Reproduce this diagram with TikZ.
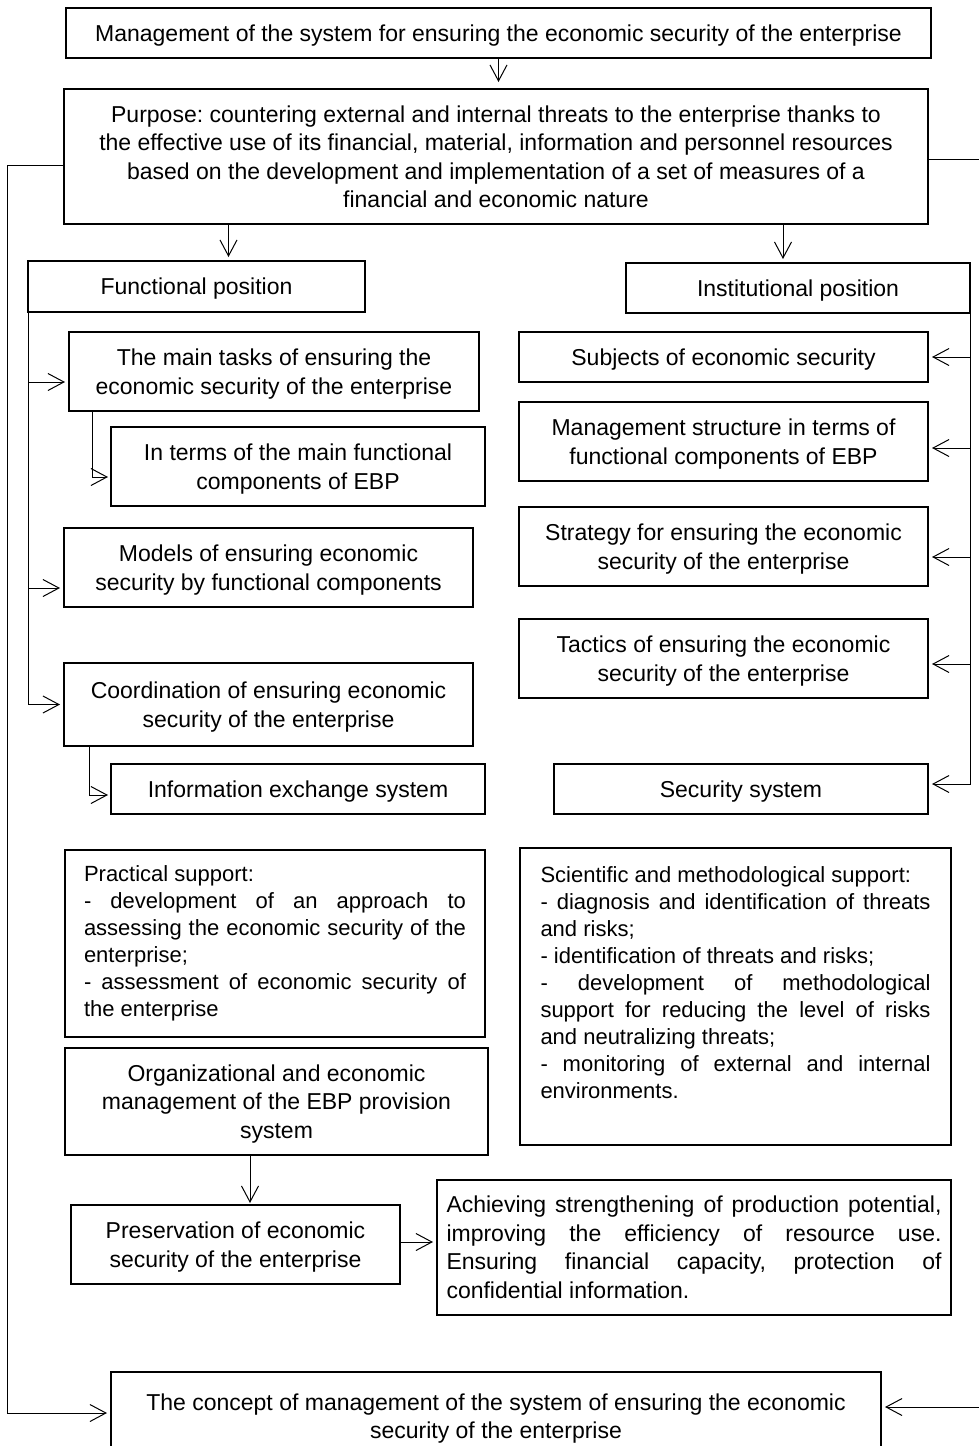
\documentclass[tikz,border=0pt]{standalone}
\usepackage{fontspec}
\setmainfont{Liberation Sans}
\usetikzlibrary{arrows.meta,positioning,calc}
\setlength{\parindent}{0pt}
\tolerance=10000
\hyphenpenalty=10000
\frenchspacing

\begin{document}
\begin{tikzpicture}[
    x=1pt, y=-1pt,
    font=\fontsize{23}{28.5}\selectfont,
    >={Straight Barb[length=16pt,width=17pt]},
    block/.style={
        rectangle, draw=black, line width=1.5pt,
        align=center, inner sep=0pt, outer sep=0pt,
        text depth=-2pt
    },
    note/.style={
        rectangle, draw=black, line width=1.5pt,
        align=justify, inner ysep=0pt, outer sep=0pt
    },
    smallnote/.style={note, font=\fontsize{22}{27}\selectfont},
    arrow/.style={->, line width=1pt, shorten >=4pt},
]
  \useasboundingbox (0,0) rectangle (978,1446);

  %––– Top level ––––––––––––––––––––––––––––––––––––––––––––
  \node (top) [block, minimum width=865pt, minimum height=50pt] at (498.5,33)
      {Management of the system for ensuring the economic security of the enterprise};

  \node (purpose) [block, minimum width=864pt, minimum height=135pt,
      below=31pt of top, xshift=-2.5pt] {
      Purpose: countering external and internal threats to the enterprise thanks to\\
      the effective use of its financial, material, information and personnel resources\\
      based on the development and implementation of a set of measures of a\\
      financial and economic nature};

  %––– Positions ––––––––––––––––––––––––––––––––––––––––––––
  \node (func) [block, minimum width=337pt, minimum height=51pt,
      below right=37pt and -36pt of purpose.south west] {Functional position};
  \node (inst) [block, minimum width=344pt, minimum height=50pt,
      below left=39pt and -42pt of purpose.south east] {Institutional position};

  %––– Functional column ––––––––––––––––––––––––––––––––––––
  \node (tasks) [block, minimum width=410pt, minimum height=79pt,
      below right=20pt and 41pt of func.south west] {
      The main tasks of ensuring the\\economic security of the enterprise};
  \node (terms) [block, minimum width=374pt, minimum height=79pt,
      below right=16pt and 42pt of tasks.south west] {
      In terms of the main functional\\components of EBP};
  \node (models) [block, minimum width=409pt, minimum height=79pt,
      below right=22pt and -47pt of terms.south west] {
      Models of ensuring economic\\security by functional components};
  \node (coord) [block, minimum width=409pt, minimum height=83pt,
      below right=56pt and 0pt of models.south west] {
      Coordination of ensuring economic\\security of the enterprise};
  \node (info) [block, minimum width=374pt, minimum height=50pt,
      below right=18pt and 47pt of coord.south west] {Information exchange system};

  %––– Institutional column –––––––––––––––––––––––––––––––––
  \node (subjects) [block, minimum width=409pt, minimum height=50pt,
      below left=19pt and 42pt of inst.south east] {Subjects of economic security};
  \node (mgmt) [block, minimum width=409pt, minimum height=79pt,
      below=20pt of subjects] {
      Management structure in terms of\\functional components of EBP};
  \node (strategy) [block, minimum width=409pt, minimum height=79pt,
      below=26pt of mgmt] {
      Strategy for ensuring the economic\\security of the enterprise};
  \node (tactics) [block, minimum width=409pt, minimum height=79pt,
      below=33pt of strategy] {
      Tactics of ensuring the economic\\security of the enterprise};
  \node (secsys) [block, minimum width=374pt, minimum height=50pt,
      below left=66pt and 0pt of tactics.south east] {Security system};

  %––– Support ––––––––––––––––––––––––––––––––––––––––––––––
  \node (practical) [smallnote, text width=382pt, inner xsep=19pt, minimum height=187pt,
      below right=36pt and -46pt of info.south west] {
      Practical support:\par
      - development of an approach to\linebreak
      assessing the economic security of the\linebreak
      enterprise;\par
      - assessment of economic security of\linebreak
      the enterprise};
  \node (scientific) [smallnote, text width=390pt, inner xsep=20.5pt, minimum height=297pt,
      below right=34pt and -34pt of secsys.south west] {
      Scientific and methodological support:\par
      - diagnosis and identification of threats\linebreak
      and risks;\par
      - identification of threats and risks;\par
      - development of methodological\linebreak
      support for reducing the level of risks\linebreak
      and neutralizing threats;\par
      - monitoring of external and internal\linebreak
      environments.\par\rule{0pt}{4pt}};

  %––– Outcome ––––––––––––––––––––––––––––––––––––––––––––––
  \node (org) [block, minimum width=423pt, minimum height=107pt,
      below right=11pt and 0pt of practical.south west] {
      Organizational and economic\\management of the EBP provision\\system};
  \node (preservation) [block, minimum width=329pt, minimum height=79pt,
      below right=50pt and 6pt of org.south west] {
      Preservation of economic\\security of the enterprise};
  \node (achieving) [note, text width=495pt, inner xsep=9.5pt, minimum height=135pt,
      below right=25pt and -51pt of org.south east] {
      Achieving strengthening of production potential,\linebreak
      improving the efficiency of resource use.\linebreak
      Ensuring financial capacity, protection of\linebreak
      confidential information.};
  \node (concept) [block, minimum width=770pt, minimum height=88pt,
      below right=88pt and 40pt of preservation.south west] {
      The concept of management of the system of ensuring the economic\\
      security of the enterprise};

  %––– Arrows –––––––––––––––––––––––––––––––––––––––––––––––
  \draw[arrow, shorten >=7pt] (top.south) -- (top.south |- purpose.north);
  \draw[arrow] ([xshift=32pt]func.north |- purpose.south) -- ([xshift=32pt]func.north);
  \draw[arrow] ([xshift=-15pt]inst.north |- purpose.south) -- ([xshift=-15pt]inst.north);

  \draw[arrow] (func.south west) |- ([yshift=-10.5pt]tasks.west);
  \draw[arrow] (func.south west) |- ([yshift=-20.5pt]models.west);
  \draw[arrow] (func.south west) |- (coord.west);
  \draw[arrow, shorten >=3pt] ([xshift=23pt]tasks.south west) |- ([yshift=-10.5pt]terms.west);
  \draw[arrow, shorten >=3pt] ([xshift=25pt]coord.south west) |- ([yshift=-6pt]info.west);

  \draw[arrow] (inst.south east) |- (subjects.east);
  \draw[arrow] (inst.south east) |- ([yshift=-6.5pt]mgmt.east);
  \draw[arrow] (inst.south east) |- ([yshift=-10.5pt]strategy.east);
  \draw[arrow] (inst.south east) |- ([yshift=-5.5pt]tactics.east);
  \draw[arrow] (inst.south east) |- ([yshift=5pt]secsys.east);

  \draw[arrow, shorten >=2pt] ([xshift=14.5pt]preservation.north |- org.south) -- ([xshift=14.5pt]preservation.north);
  \draw[arrow] ([yshift=2.5pt]preservation.east) -- ([yshift=2.5pt]preservation.east -| achieving.west);

  % feedback loops into the concept
  \draw[arrow] ([yshift=-9pt]purpose.west) -- ++(-57pt,0) |- ([yshift=3pt]concept.west);
  \draw[arrow] ([yshift=-2.5pt]purpose.east) -- ++(57pt,0) |- ([yshift=9pt]concept.east);
\end{tikzpicture}
\end{document}
